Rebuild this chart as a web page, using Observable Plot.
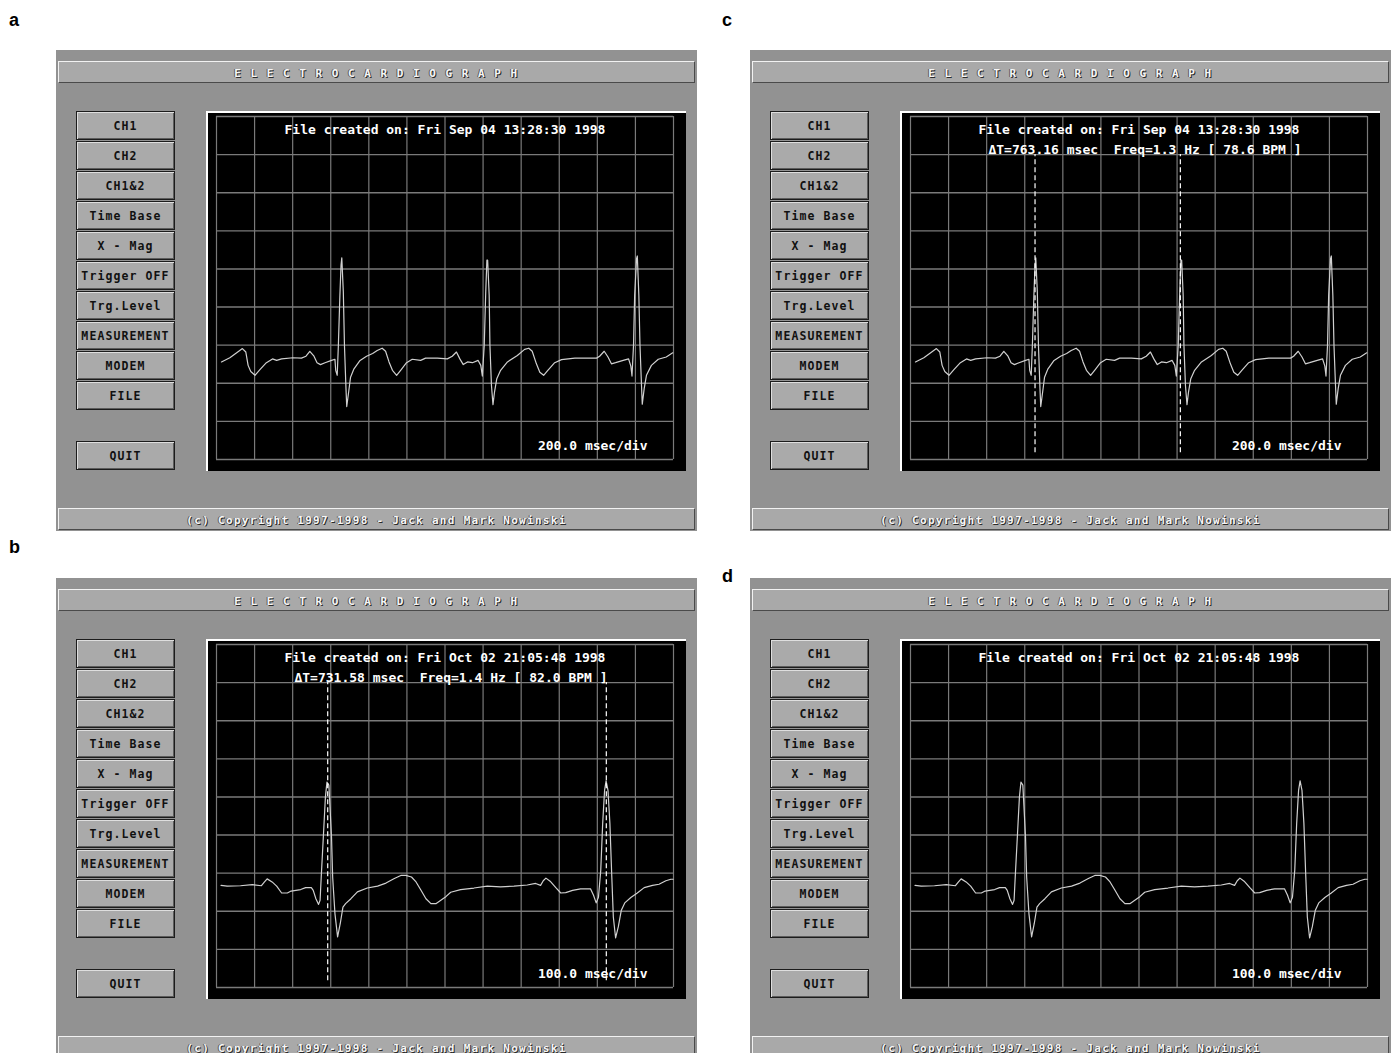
<!DOCTYPE html>
<html>
<head>
<meta charset="utf-8">
<script src="https://cdn.jsdelivr.net/npm/d3@7"></script>
<script src="https://cdn.jsdelivr.net/npm/@observablehq/plot@0.6"></script>
<style>
  html, body { margin: 0; padding: 0; background: #ffffff; }
  body { position: relative; width: 1391px; height: 1053px; overflow: hidden; font-family: "DejaVu Sans Mono", monospace; }
  .label { position: absolute; font-family: "Liberation Sans", Arial, sans-serif; font-weight: bold; font-size: 18px; line-height: 18px; color: #000; }
  .panel { position: absolute; width: 641px; height: 481px; background: #929292; overflow: hidden; }
  .bar { position: absolute; left: 2px; width: 637px; height: 22px; box-sizing: border-box;
         background: #a9a9a9; border-top: 1px solid #f2f2f2; border-left: 1px solid #f2f2f2;
         border-right: 1px solid #4a4a4a; border-bottom: 1px solid #4a4a4a;
         text-align: center; line-height: 23px; font-size: 11px; font-weight: bold; color: #f6f6f6;
         text-shadow: 1px 1px 0 #2a2a2a, -1px 0 0 #5a5a5a; white-space: pre; }
  .bar.title { letter-spacing: 1.5px; }
  .bar.foot { letter-spacing: 1.3px; }
  .btn { position: absolute; left: 20px; width: 99px; height: 29px; box-sizing: border-box;
         background: #aaaaaa; border: 1px solid #1c1c1c;
         box-shadow: inset 1px 1px 0 #dedede, inset -1px -1px 0 #5c5c5c;
         text-align: center; line-height: 28px; font-size: 11.5px; font-weight: bold; color: #111;
         letter-spacing: 1.1px; white-space: pre; }
  .screen { position: absolute; left: 150px; top: 61px; width: 478px; height: 358px;
            border-top: 2px solid #ffffff; border-left: 2px solid #ffffff; background: #000; }
  .screen svg { display: block; }
</style>
</head>
<body>
<script>
// ---------- data ----------
// Trace of the file of Sep 04 (panels a and c): [time in ms, amplitude in grid divisions]
const traceSep04 = [
  [26,2.56],[70,2.67],[106,2.80],[136,2.91],[154,2.82],[166,2.47],[180,2.31],[202,2.21],[228,2.36],[262,2.54],
  [294,2.64],[316,2.60],[342,2.64],[402,2.67],[446,2.66],[470,2.71],[490,2.84],[512,2.71],[528,2.54],[546,2.49],
  [570,2.54],[604,2.60],[622,2.63],[626,2.34],[634,2.21],[640,2.99],[648,4.31],[654,5.10],[658,5.29],[666,4.40],
  [672,2.99],[680,1.86],[684,1.39],[694,1.77],[704,2.16],[722,2.38],[754,2.60],[788,2.71],[820,2.78],[844,2.86],
  [870,2.92],[888,2.84],[906,2.56],[924,2.34],[946,2.21],[970,2.36],[998,2.54],[1028,2.63],[1072,2.60],[1098,2.66],
  [1160,2.66],[1212,2.64],[1238,2.71],[1260,2.82],[1278,2.64],[1296,2.49],[1318,2.56],[1344,2.54],[1374,2.60],[1388,2.47],
  [1396,2.19],[1406,2.99],[1414,4.40],[1420,5.23],[1424,5.23],[1432,4.31],[1436,2.99],[1444,1.94],[1452,1.44],[1460,1.77],
  [1472,2.12],[1492,2.34],[1528,2.56],[1580,2.73],[1618,2.89],[1640,2.92],[1658,2.84],[1680,2.51],[1698,2.29],[1718,2.21],
  [1740,2.34],[1776,2.54],[1812,2.62],[1882,2.66],[1996,2.66],[2012,2.71],[2036,2.84],[2056,2.69],[2074,2.51],[2096,2.54],
  [2136,2.60],[2164,2.64],[2176,2.45],[2182,2.19],[2190,2.99],[2196,4.31],[2206,5.27],[2210,5.34],[2218,4.31],[2224,2.99],
  [2232,1.94],[2236,1.45],[2246,1.86],[2258,2.21],[2284,2.47],[2320,2.63],[2362,2.69],[2396,2.80]
];
// Trace of the file of Oct 02 (panels b and d)
const traceOct02 = [
  [12,2.68],[28,2.66],[63,2.67],[94,2.70],[118,2.67],[126,2.77],[133,2.85],[146,2.77],[158,2.66],[171,2.48],
  [186,2.48],[196,2.53],[221,2.57],[234,2.62],[249,2.62],[254,2.55],[261,2.33],[268,2.18],[272,2.29],[275,2.90],
  [281,4.04],[286,5.00],[290,5.39],[295,5.31],[298,4.74],[302,3.95],[305,2.90],[311,1.94],[318,1.33],[325,1.68],
  [332,2.11],[339,2.20],[353,2.33],[370,2.51],[396,2.61],[423,2.66],[445,2.74],[467,2.86],[484,2.94],[497,2.94],
  [512,2.90],[524,2.77],[537,2.55],[550,2.33],[563,2.20],[576,2.20],[589,2.29],[603,2.39],[615,2.50],[641,2.57],
  [676,2.61],[711,2.66],[746,2.64],[781,2.66],[816,2.69],[838,2.73],[851,2.68],[858,2.80],[865,2.87],[876,2.79],
  [891,2.62],[904,2.48],[917,2.49],[935,2.55],[956,2.59],[982,2.59],[990,2.42],[997,2.22],[1003,2.37],[1009,3.08],
  [1014,4.30],[1019,5.17],[1023,5.42],[1028,5.17],[1033,4.30],[1038,2.90],[1042,1.85],[1048,1.30],[1055,1.59],[1063,2.03],
  [1072,2.22],[1088,2.36],[1105,2.48],[1123,2.62],[1145,2.68],[1162,2.71],[1180,2.80],[1193,2.84],[1199,2.84]
];
const timeBases = [200, 100];               // msec/div
const timeBaseLabels = ["200.0 msec/div", "100.0 msec/div"];
const divisionsX = 12, divisionsY = 9;
const fileLabels = ["File created on: Fri Sep 04 13:28:30 1998", "File created on: Fri Oct 02 21:05:48 1998"];
const measureLabels = ["\u0394T=763.16 msec\u00a0\u00a0Freq=1.3 Hz [ 78.6 BPM ]", "\u0394T=731.58 msec\u00a0\u00a0Freq=1.4 Hz [ 82.0 BPM ]"];
const cursorsSep04 = [654, 1417.16];
const cursorsOct02 = [292, 1023.58];
const cursorSpan = [0.18, 8.0];
const buttonLabels = ["CH1", "CH2", "CH1&2", "Time Base", "X - Mag", "Trigger OFF", "Trg.Level", "MEASUREMENT", "MODEM", "FILE"];
const quitLabel = "QUIT";
const titleText = "E L E C T R O C A R D I O G R A P H";
const footerText = "(c) Copyright 1997-1998 - Jack and Mark Nowinski";
const panelLetters = ["a", "b", "c", "d"];

// ---------- drawing ----------
const gridColor = "#7a7a7a";
const traceColor = "#d0d0d0";
const monoFont = "DejaVu Sans Mono, monospace";

function scope(trace, msPerDiv, tbLabel, fileLabel, measLabel, cursors) {
  const tMax = msPerDiv * divisionsX;
  const txt = {fill: "#ffffff", fontFamily: monoFont, fontSize: 13, fontWeight: "bold", lineAnchor: "middle"};
  const marks = [
    Plot.ruleX(d3.range(0, tMax + 1, msPerDiv), {stroke: gridColor, strokeWidth: 1.2}),
    Plot.ruleY(d3.range(0, divisionsY + 1), {stroke: gridColor, strokeWidth: 1.4}),
    Plot.line(trace, {x: d => d[0], y: d => d[1], stroke: traceColor, strokeWidth: 1.2}),
    Plot.text([fileLabel], {text: d => d, frameAnchor: "top", dy: 13, ...txt}),
    Plot.text([tbLabel], {text: d => d, frameAnchor: "bottom-right", textAnchor: "end", dx: -26, dy: -14, ...txt})
  ];
  if (cursors) {
    marks.push(Plot.ruleX(cursors, {y1: cursorSpan[0], y2: cursorSpan[1], stroke: "#ffffff",
      strokeWidth: 1.2, strokeDasharray: "5,3"}));
    marks.push(Plot.text([measLabel], {text: d => d, frameAnchor: "top", dy: 33, dx: 6, ...txt}));
  }
  return Plot.plot({
    width: 478, height: 358,
    marginLeft: 8, marginTop: 3, marginRight: 13, marginBottom: 12,
    x: {domain: [0, tMax], axis: null},
    y: {domain: [0, divisionsY], axis: null},
    style: {background: "#000000", display: "block", overflow: "visible"},
    marks
  });
}

function panel(left, top, plotNode) {
  const p = document.createElement("div");
  p.className = "panel";
  p.style.left = left + "px";
  p.style.top = top + "px";
  const t = document.createElement("div");
  t.className = "bar title"; t.style.top = "11px"; t.textContent = titleText;
  p.appendChild(t);
  buttonLabels.forEach((lab, i) => {
    const b = document.createElement("div");
    b.className = "btn"; b.style.top = (61 + 30 * i) + "px"; b.textContent = lab;
    p.appendChild(b);
  });
  const q = document.createElement("div");
  q.className = "btn"; q.style.top = "391px"; q.textContent = quitLabel;
  p.appendChild(q);
  const s = document.createElement("div");
  s.className = "screen";
  s.appendChild(plotNode);
  p.appendChild(s);
  const f = document.createElement("div");
  f.className = "bar foot"; f.style.top = "458px"; f.textContent = footerText;
  p.appendChild(f);
  document.body.appendChild(p);
}

function letter(ch, left, top) {
  const d = document.createElement("div");
  d.className = "label"; d.textContent = ch;
  d.style.left = left + "px"; d.style.top = top + "px";
  document.body.appendChild(d);
}

panel(56, 50, scope(traceSep04, timeBases[0], timeBaseLabels[0], fileLabels[0], null, null));
panel(750, 50, scope(traceSep04, timeBases[0], timeBaseLabels[0], fileLabels[0], measureLabels[0], cursorsSep04));
panel(56, 578, scope(traceOct02, timeBases[1], timeBaseLabels[1], fileLabels[1], measureLabels[1], cursorsOct02));
panel(750, 578, scope(traceOct02, timeBases[1], timeBaseLabels[1], fileLabels[1], null, null));

letter(panelLetters[0], 9, 11);
letter(panelLetters[1], 9, 538);
letter(panelLetters[2], 722, 11);
letter(panelLetters[3], 722, 567);
</script>
</body>
</html>
